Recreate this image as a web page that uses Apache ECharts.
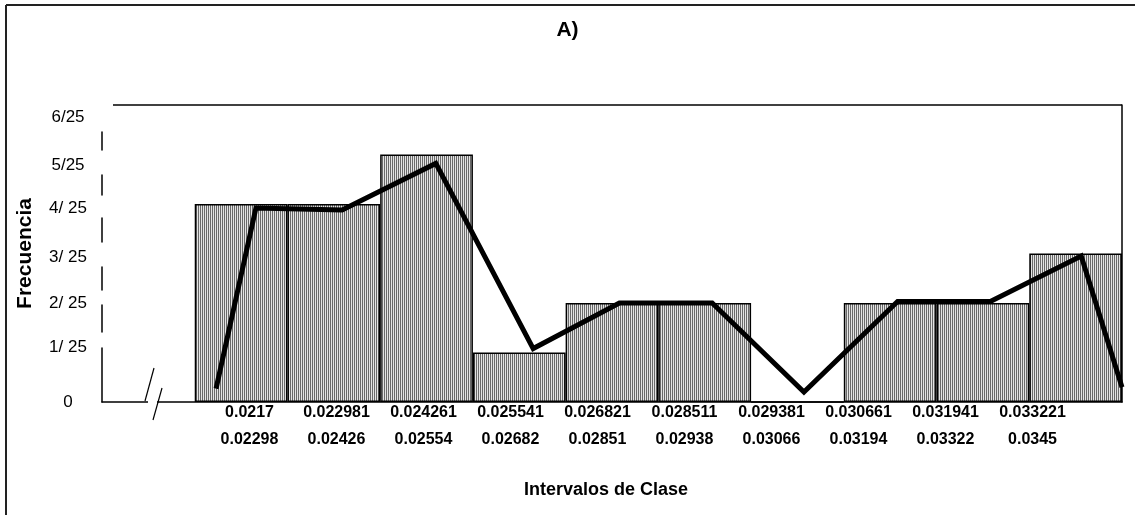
<!DOCTYPE html>
<html>
<head>
<meta charset="utf-8">
<script src="https://cdn.jsdelivr.net/npm/echarts@6/dist/echarts.min.js"></script>
<style>
  html, body { margin: 0; padding: 0; background: #fff; }
  #chart { width: 1135px; height: 515px; }
</style>
</head>
<body>
<div id="chart"></div>
<script>
// Class intervals (lower and upper limits)
const lowerBounds = ['0.0217', '0.022981', '0.024261', '0.025541', '0.026821', '0.028511', '0.029381', '0.030661', '0.031941', '0.033221'];
const upperBounds = ['0.02298', '0.02426', '0.02554', '0.02682', '0.02851', '0.02938', '0.03066', '0.03194', '0.03322', '0.0345'];
// Absolute frequency of each class (out of 25)
const frequencies = [4, 4, 5, 1, 2, 2, 0, 2, 2, 3];
// Relative frequency tick labels
const yTickLabels = ['0', '1/ 25', '2/ 25', '3/ 25', '4/ 25', '5/25', '6/25'];
// Frequency polygon vertices: position in class slots (slot 0 holds the axis break) and height
const polygonX = [1.23, 1.66, 2.59, 3.60, 4.65, 5.58, 6.58, 7.57, 8.58, 9.58, 10.56, 11.0];
const polygonY = [0.27, 3.92, 3.88, 4.82, 1.08, 2.0, 2.0, 0.2, 2.03, 2.03, 2.95, 0.3];

const SANS = "'Liberation Sans', Arial, sans-serif";

// vertical nudge (px) of each y tick label, as laid out in the original worksheet chart
const yLabelNudge = [0, -5, 0, 4, 4, 11, 12];

// vertical hatch fill for the bars
function hatchPattern() {
  const c = document.createElement('canvas');
  c.width = 2; c.height = 4;
  const g = c.getContext('2d');
  g.fillStyle = '#e4e4e4';
  g.fillRect(0, 0, 2, 4);
  g.fillStyle = '#6a6a6a';
  g.fillRect(0, 0, 1, 4);
  return c;
}

const yLabelRich = {};
yLabelNudge.forEach((d, i) => {
  yLabelRich['t' + i] = {
    fontFamily: SANS, fontSize: 17, color: '#000', align: 'center',
    padding: d >= 0 ? [2 * d, 0, 0, 0] : [0, 0, -2 * d, 0]
  };
});

const chart = echarts.init(document.getElementById('chart'), null, { renderer: 'canvas' });

const barData = ['-'].concat(frequencies);
const slotLabels = [''].concat(lowerBounds.map(() => ''));
const intervalLabels = lowerBounds.map((lo, i) => lo + '\n' + upperBounds[i]);
const polygon = polygonX.map((x, i) => [x, polygonY[i]]);

chart.setOption({
  animation: false,
  backgroundColor: '#fff',
  title: {
    text: 'A)',
    left: 'center',
    top: 15,
    textStyle: { fontFamily: SANS, fontWeight: 'bold', fontSize: 21, color: '#000' }
  },
  grid: [
    { left: 102, right: 13, top: 105, bottom: 113 },
    { left: 206, right: 59, top: 105, bottom: 113 }
  ],
  xAxis: [
    {
      type: 'category', gridIndex: 0, data: slotLabels, boundaryGap: true,
      axisLine: { show: true, lineStyle: { color: '#000', width: 1.5 } },
      axisTick: { show: false }, axisLabel: { show: false }, splitLine: { show: false },
      name: 'Intervalos de Clase', nameLocation: 'middle', nameGap: 79,
      nameTextStyle: { fontFamily: SANS, fontWeight: 'bold', fontSize: 18, color: '#000', padding: [0, 12, 0, 0] }
    },
    { type: 'value', gridIndex: 0, min: 0, max: 11, show: false },
    {
      type: 'category', gridIndex: 1, data: intervalLabels, boundaryGap: true,
      axisLine: { show: false }, axisTick: { show: false }, splitLine: { show: false },
      axisLabel: {
        interval: 0, margin: -3, color: '#000', fontFamily: SANS, fontWeight: 'bold',
        fontSize: 16, lineHeight: 27
      }
    }
  ],
  yAxis: [
    {
      type: 'value', gridIndex: 0, min: 0, max: 6, interval: 1,
      axisLine: { show: true, lineStyle: { color: '#000', width: 1.5, type: [54, 16, 27, 15, 23, 25, 24, 23, 20, 25, 18, 60] } },
      axisTick: { show: false }, splitLine: { show: false },
      axisLabel: {
        margin: 34, align: 'center', color: '#000', fontFamily: SANS, fontSize: 17,
        formatter: v => '{t' + v + '|' + yTickLabels[v] + '}',
        rich: yLabelRich
      },
      name: 'Frecuencia', nameLocation: 'middle', nameGap: 66,
      nameTextStyle: { fontFamily: SANS, fontWeight: 'bold', fontSize: 21, color: '#000' }
    },
    {
      type: 'value', gridIndex: 0, min: 0, max: 6, position: 'right',
      axisLine: { show: true, lineStyle: { color: '#000', width: 1.5 } },
      axisTick: { show: false }, axisLabel: { show: false }, splitLine: { show: false }
    },
    { type: 'value', gridIndex: 1, min: 0, max: 6, show: false }
  ],
  series: [
    {
      type: 'bar', xAxisIndex: 0, yAxisIndex: 0, data: barData,
      barCategoryGap: '0%',
      itemStyle: {
        color: { image: hatchPattern(), repeat: 'repeat' },
        borderColor: '#000', borderWidth: 1.5
      },
      z: 2
    },
    {
      type: 'line', xAxisIndex: 1, yAxisIndex: 0, data: polygon,
      symbol: 'none', lineStyle: { color: '#000', width: 5, join: 'miter' },
      z: 5
    }
  ],
  graphic: [
    // outer frame (top and left edges)
    { type: 'line', shape: { x1: 6, y1: 5, x2: 1135, y2: 5 }, style: { stroke: '#222', lineWidth: 2 } },
    { type: 'line', shape: { x1: 6, y1: 5, x2: 6, y2: 515 }, style: { stroke: '#222', lineWidth: 2 } },
    // top edge of the plot area
    { type: 'line', shape: { x1: 113, y1: 105, x2: 1122, y2: 105 }, style: { stroke: '#000', lineWidth: 1.5 } },
    // axis break marks
    { type: 'rect', shape: { x: 148, y: 398, width: 9, height: 8 }, style: { fill: '#fff' }, z: 10 },
    { type: 'line', shape: { x1: 145, y1: 401, x2: 154, y2: 368 }, style: { stroke: '#000', lineWidth: 1.2 }, z: 11 },
    { type: 'line', shape: { x1: 153, y1: 420, x2: 162, y2: 388 }, style: { stroke: '#000', lineWidth: 1.2 }, z: 11 }
  ]
});
</script>
</body>
</html>
